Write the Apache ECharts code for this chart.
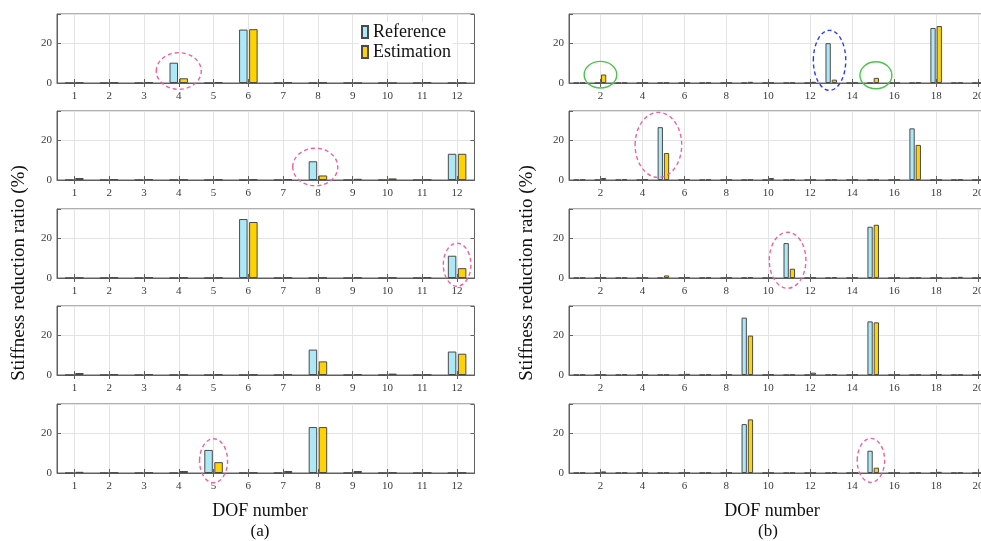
<!DOCTYPE html>
<html><head><meta charset="utf-8">
<script src="https://cdn.jsdelivr.net/npm/echarts@6/dist/echarts.min.js"></script>
<style>html,body{margin:0;padding:0;background:#fff}#c{width:981px;height:541px}</style>
</head><body><div id="c"></div>
<script>
// ---- data ----
const leftCats = ['1','2','3','4','5','6','7','8','9','10','11','12'];
const rightCats = ['1','2','3','4','5','6','7','8','9','10','11','12','13','14','15','16','17','18','19','20'];
const seriesNames = ['Reference','Estimation'];

const L1ref = [0,0,0,10.3,0,27.1,0,0,0,0,0,0];
const L1est = [0.2,0.2,0.4,2.4,0.5,27.3,0.4,0.2,0,0,0.4,0];
const L2ref = [0,0,0,0,0,0,0,9.5,0,0,0,13.3];
const L2est = [1.0,0.4,0.5,0.2,0.3,0.3,0.5,2.3,0.6,0.8,0.2,13.3];
const L3ref = [0,0,0,0,0,29.9,0,0,0,0,0,11.3];
const L3est = [0.1,0.4,0.4,0.2,0.2,28.4,0.3,0.2,0.3,0.2,0.4,5.0];
const L4ref = [0,0,0,0,0,0,0,12.9,0,0,0,11.9];
const L4est = [1.0,0.4,0.5,0.2,0.3,0.2,0.5,6.9,0.4,0.7,0.2,10.8];
const L5ref = [0,0,0,0,11.7,0,0,23.3,0,0,0,0];
const L5est = [0.6,0.2,0.2,1.0,5.5,0.2,1.0,23.3,1.0,0.2,0.2,0.2];

const R1ref = [0,0,0,0,0,0,0,0,0,0,0,0,20.2,0,0,0,0,27.9,0,0];
const R1est = [0.1,4.3,0.1,0.1,0.1,0.1,0.1,0.1,0.6,0.1,0.1,0.6,1.7,0.1,2.6,0.1,0.2,28.9,0.1,0.1];
const R2ref = [0,0,0,0,26.8,0,0,0,0,0,0,0,0,0,0,0,26.2,0,0,0];
const R2est = [0.1,1.0,0.3,0.5,13.7,0.5,0.1,0.1,0.1,1.0,0.1,0.1,0.1,0.1,0.1,0.1,17.8,0.1,0.2,0.1];
const R3ref = [0,0,0,0,0,0,0,0,0,0,17.7,0,0,0,26.0,0,0,0,0,0];
const R3est = [0.1,0.2,0.1,0.1,1.3,0.5,0.2,0.1,0.4,0.1,4.7,0.2,0.5,0.1,27.0,0.1,0.1,0.1,0.6,0.1];
const R4ref = [0,0,0,0,0,0,0,0,29.1,0,0,0,0,0,27.2,0,0,0,0,0];
const R4est = [0.1,0.1,0.3,0.1,0.1,0.6,0.2,0.4,20.0,0.3,0.1,1.2,0.3,0.1,26.7,0.1,0.1,0.3,0.1,0.1];
const R5ref = [0,0,0,0,0,0,0,0,24.8,0,0,0,0,0,11.3,0,0,0,0,0];
const R5est = [0.1,0.8,0.1,0.1,0.1,0.1,0.1,0.2,27.2,0.1,0.1,0.1,0.3,0.1,2.7,0.1,0.1,0.6,0.1,0.1];

const yTickLabels = [0, 20];

// annotations (panel index, category, value)
const annoPanel = [0,1,2,4,5,5,5,6,7,9];
const annoCat = ['4','8','12','5','2','13','15','5','11','15'];
const annoVal = [6.1,6.6,6.75,6.2,4.2,11.5,3.9,17.8,9.0,6.4];
// annotation styles
const annoStyle = [
  {rx:22.5,ry:18.3,dx:0,c:'#f0609f',dash:true},
  {rx:22.5,ry:18.8,dx:-2.7,c:'#f0609f',dash:true},
  {rx:13.8,ry:21.5,dx:0,c:'#f0609f',dash:true},
  {rx:14,ry:22,dx:0,c:'#f0609f',dash:true},
  {rx:16.3,ry:13.3,dx:0,c:'#4cc44c',dash:false},
  {rx:16.2,ry:30,dx:-1.7,c:'#2b3cf0',dash:true},
  {rx:16,ry:13.5,dx:2.7,c:'#4cc44c',dash:false},
  {rx:23.3,ry:32.5,dx:-5,c:'#f0609f',dash:true},
  {rx:18.3,ry:28,dx:-1.7,c:'#f0609f',dash:true},
  {rx:13.7,ry:22,dx:-2.3,c:'#f0609f',dash:true}
];

const panels = [
  [L1ref,L1est],[L2ref,L2est],[L3ref,L3est],[L4ref,L4est],[L5ref,L5est],
  [R1ref,R1est],[R2ref,R2est],[R3ref,R3est],[R4ref,R4est],[R5ref,R5est]
];

// ---- layout / style ----
const FONT = '"Liberation Serif", "DejaVu Serif", serif';
const rowTops = [14, 111, 209, 306, 404];
const rowH = 69;
const refColor = '#ade8f7', estColor = '#ffd200', edge = '#4a4a4a';
const axisCol = '#606060';

const grid = [], xAxis = [], yAxis = [], series = [];
panels.forEach((p, i) => {
  const right = i >= 5;
  const r = i % 5;
  grid.push({left: right ? 569 : 57, width: right ? 419.6 : 417.5, top: rowTops[r], height: rowH,
    outerBoundsMode: 'none', containLabel: false,
    show: true, borderColor: axisCol, borderWidth: 1, backgroundColor: 'transparent'});
  const cats = right ? rightCats : leftCats;
  const intv = right ? (idx => idx % 2 === 1) : 0;
  xAxis.push({type: 'category', gridIndex: i, data: cats, position: 'bottom',
    axisLine: {show: true, lineStyle: {color: axisCol}},
    axisTick: {show: true, inside: true, length: 4, alignWithLabel: true, interval: intv, lineStyle: {color: axisCol}},
    axisLabel: {interval: intv, margin: 8, fontFamily: FONT, fontSize: 11, color: '#3a3a3a', hideOverlap: false},
    splitLine: {show: true, alignWithLabel: true, interval: intv, lineStyle: {color: '#e4e4e4', width: 1}}
  });
  xAxis.push({type: 'category', gridIndex: i, data: cats, position: 'top',
    axisLine: {show: false},
    axisTick: {show: true, inside: true, length: 4, alignWithLabel: true, interval: intv, lineStyle: {color: axisCol}},
    axisLabel: {show: false}, splitLine: {show: false}
  });
  yAxis.push({type: 'value', gridIndex: i, min: 0, max: 35, interval: 20, position: 'left',
    axisLine: {show: true, lineStyle: {color: axisCol}},
    axisTick: {show: true, inside: true, length: 4, lineStyle: {color: axisCol}},
    axisLabel: {margin: 5, fontFamily: FONT, fontSize: 11, color: '#3a3a3a',
      formatter: v => yTickLabels.indexOf(v) >= 0 ? String(v) : ''},
    splitLine: {show: true, lineStyle: {color: '#e4e4e4', width: 1}}
  });
  yAxis.push({type: 'value', gridIndex: i, min: 0, max: 35, interval: 20, position: 'right',
    axisLine: {show: false},
    axisTick: {show: true, inside: true, length: 4, lineStyle: {color: axisCol}},
    axisLabel: {show: false}, splitLine: {show: false}
  });
  const bw = right ? 5.3 : 8.5;
  [0, 1].forEach(s => {
    series.push({type: 'bar', name: seriesNames[s], xAxisIndex: 2 * i, yAxisIndex: 2 * i,
      data: p[s], barWidth: bw, barGap: '18%', silent: true, animation: false,
      itemStyle: {color: s === 0 ? refColor : estColor, borderColor: edge, borderWidth: 1}
    });
  });
  const annIdx = [];
  annoPanel.forEach((pp, k) => { if (pp === i) annIdx.push(k); });
  if (annIdx.length) {
    series.push({type: 'custom', name: 'anno' + i, xAxisIndex: 2 * i, yAxisIndex: 2 * i,
      clip: false, silent: true, animation: false, z: 10,
      data: annIdx.map(k => ({value: [annoCat[k], annoVal[k]]})),
      renderItem: (params, api) => {
        const k = annIdx[params.dataIndex];
        const st = annoStyle[k];
        const c = api.coord([api.value(0), api.value(1)]);
        return {type: 'ellipse', shape: {cx: c[0] + st.dx, cy: c[1], rx: st.rx, ry: st.ry},
          style: {fill: 'none', stroke: st.c, lineWidth: 1.4, lineDash: st.dash ? [4, 3] : null}};
      }
    });
  }
});

const chart = echarts.init(document.getElementById('c'), null, {renderer: 'canvas'});
chart.setOption({
  animation: false,
  backgroundColor: '#ffffff',
  grid, xAxis, yAxis, series,
  legend: {data: seriesNames, orient: 'vertical', left: 359, top: 22, itemGap: 0,
    itemWidth: 6, itemHeight: 12, icon: 'rect', selectedMode: false, backgroundColor: '#fff',
    padding: [0, 2, 0, 2],
    textStyle: {fontFamily: FONT, fontSize: 18, color: '#111', lineHeight: 20}},
  graphic: [
    {type: 'text', x: 19, y: 273, rotation: Math.PI / 2, style: {text: 'Stiffness reduction ratio (%)', font: '19px ' + FONT, fill: '#111', align: 'center', verticalAlign: 'middle'}},
    {type: 'text', x: 527, y: 273, rotation: Math.PI / 2, style: {text: 'Stiffness reduction ratio (%)', font: '19px ' + FONT, fill: '#111', align: 'center', verticalAlign: 'middle'}},
    {type: 'text', x: 260, y: 511, style: {text: 'DOF number', font: '18px ' + FONT, fill: '#111', align: 'center', verticalAlign: 'middle'}},
    {type: 'text', x: 260, y: 532, style: {text: '(a)', font: '17px ' + FONT, fill: '#111', align: 'center', verticalAlign: 'middle'}},
    {type: 'text', x: 772, y: 511, style: {text: 'DOF number', font: '18px ' + FONT, fill: '#111', align: 'center', verticalAlign: 'middle'}},
    {type: 'text', x: 768, y: 532, style: {text: '(b)', font: '17px ' + FONT, fill: '#111', align: 'center', verticalAlign: 'middle'}}
  ]
});
</script></body></html>
